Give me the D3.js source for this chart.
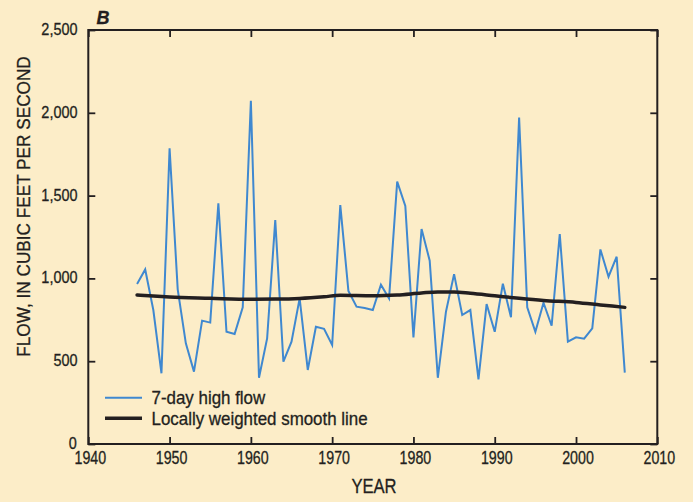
<!DOCTYPE html>
<html>
<head>
<meta charset="utf-8">
<script src="https://cdn.jsdelivr.net/npm/d3@7"></script>
<style>
  html, body { margin: 0; padding: 0; background: #FCEDC8; }
  svg { display: block; }
  text { font-family: "Liberation Sans", Arial, sans-serif; fill: #231F20; stroke: #231F20; stroke-width: 0.3px; }
</style>
</head>
<body>
<svg id="chart" width="693" height="502"></svg>
<script>
const years = [1946,1947,1948,1949,1950,1951,1952,1953,1954,1955,1956,1957,1958,1959,1960,
  1961,1962,1963,1964,1965,1966,1967,1968,1969,1970,1971,1972,1973,1974,1975,1976,1977,1978,1979,1980,
  1981,1982,1983,1984,1985,1986,1987,1988,1989,1990,1991,1992,1993,1994,1995,1996,1997,1998,1999,2000,
  2001,2002,2003,2004,2005,2006];
const highFlow = [966,1054,809,427,1785,934,608,437,745,733,1453,678,664,825,2072,
  400,638,1352,497,618,879,447,708,696,598,1443,924,829,821,809,962,879,1584,1437,644,
  1298,1107,400,799,1026,779,809,390,845,678,968,765,1972,825,678,853,714,1268,618,644,
  636,698,1175,1010,1131,431];
const smoothYears = [1946,1948,1950,1955,1960,1963,1966,1969,1971,1975,1978,1981,1983,1985,1987,1990,1993,1996,2000,2003,2006];
const smoothValues = [900,893,887,880,874,875,879,889,898,895,900,912,918,918,910,895,880,867,855,840,825];
const xTicks = [1940,1950,1960,1970,1980,1990,2000,2010];
const yTicks = [0,500,1000,1500,2000,2500];
const legendLabels = ["7-day high flow", "Locally weighted smooth line"];
const panelLabel = "B";
const xTitle = "YEAR";
const yTitle = "FLOW, IN CUBIC FEET PER SECOND";

const svg = d3.select("#chart");
const L = 88.3, R = 657.3, T = 30, B = 444;
const x = d3.scaleLinear().domain([1940, 2010]).range([L, R]);
const y = d3.scaleLinear().domain([0, 2500]).range([B, T]);
const ink = "#231F20";
const blue = "#3F88D0";
const tickLen = 7;

// condensed text helper: place at (px,py), compress horizontally
function ctext(g, px, py, str, size, sx, anchor, rot) {
  return g.append("text")
    .attr("transform", `translate(${px},${py})` + (rot ? ` rotate(${rot})` : "") + ` scale(${sx},1)`)
    .attr("text-anchor", anchor || "start")
    .attr("font-size", size)
    .text(str);
}

// Axes (inward ticks on all four sides)
const gl = svg.append("g").attr("transform", `translate(${L},0)`)
  .call(d3.axisRight(y).tickValues(yTicks).tickSize(tickLen).tickFormat(""));
const gr = svg.append("g").attr("transform", `translate(${R},0)`)
  .call(d3.axisLeft(y).tickValues(yTicks).tickSize(tickLen).tickFormat(""));
const gb = svg.append("g").attr("transform", `translate(0,${B})`)
  .call(d3.axisTop(x).tickValues(xTicks).tickSize(tickLen).tickFormat(""));
const gt = svg.append("g").attr("transform", `translate(0,${T})`)
  .call(d3.axisBottom(x).tickValues(xTicks).tickSize(tickLen).tickFormat(""));
[gl, gr, gb, gt].forEach(g => {
  g.select(".domain").remove();
  g.selectAll(".tick line").attr("stroke", ink).attr("stroke-width", 1.8);
});

// Frame
svg.append("rect").attr("x", L).attr("y", T).attr("width", R - L).attr("height", B - T)
  .attr("fill", "none").attr("stroke", ink).attr("stroke-width", 2);

// Tick labels
const fmt = d3.format(",");
const gyl = svg.append("g");
yTicks.forEach(d => ctext(gyl, d === 0 ? 76.7 : 77.5, y(d) + 5, fmt(d), 17, 0.85, "end"));
const gxl = svg.append("g");
xTicks.forEach(d => ctext(gxl, x(d) + 2, 463.5, String(d), 18, 0.79, "middle"));

// Titles
ctext(svg, 374, 492.7, xTitle, 20, 0.83, "middle");
ctext(svg, 30, 206.5, yTitle, 19, 0.905, "middle", -90);
svg.append("text").attr("x", 96.5).attr("y", 24.3).attr("font-size", 18)
  .attr("font-weight", "bold").attr("font-style", "italic").attr("stroke-width", 0).text(panelLabel);

// Lines
const lineFlow = d3.line().x((d, i) => x(years[i])).y(d => y(d));
svg.append("path").datum(highFlow).attr("d", lineFlow)
  .attr("fill", "none").attr("stroke", blue).attr("stroke-width", 2).attr("stroke-linejoin", "miter");

const lineSmooth = d3.line().x((d, i) => x(smoothYears[i])).y(d => y(d)).curve(d3.curveMonotoneX);
svg.append("path").datum(smoothValues).attr("d", lineSmooth)
  .attr("fill", "none").attr("stroke", ink).attr("stroke-width", 3.5).attr("stroke-linecap", "round");

// Legend
const legend = svg.append("g");
const lgColors = [blue, ink];
const lgWidths = [2, 3.5];
const lgY = [397.7, 418.3];
legendLabels.forEach((lab, i) => {
  legend.append("line").attr("x1", 105).attr("x2", 142).attr("y1", lgY[i]).attr("y2", lgY[i])
    .attr("stroke", lgColors[i]).attr("stroke-width", lgWidths[i]);
  ctext(legend, 151.5, lgY[i] + 6.3, lab, 18, 0.94, "start");
});
</script>
</body>
</html>
